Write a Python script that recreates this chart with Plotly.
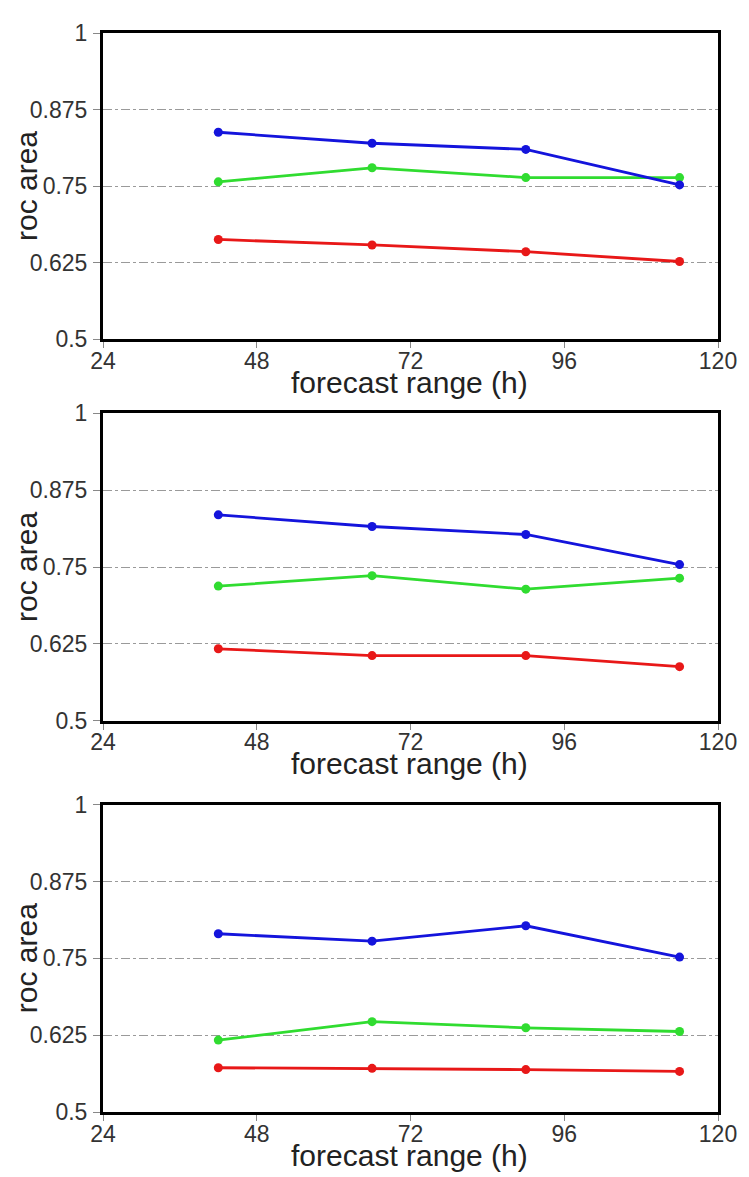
import plotly.graph_objects as go
from plotly.subplots import make_subplots

hours = [42, 66, 90, 114]

blue_1 = [0.838, 0.820, 0.810, 0.752]
green_1 = [0.757, 0.780, 0.764, 0.764]
red_1 = [0.663, 0.654, 0.643, 0.627]

blue_2 = [0.835, 0.816, 0.803, 0.754]
green_2 = [0.719, 0.736, 0.714, 0.732]
red_2 = [0.617, 0.606, 0.606, 0.588]

blue_3 = [0.790, 0.778, 0.803, 0.752]
green_3 = [0.617, 0.647, 0.637, 0.631]
red_3 = [0.572, 0.571, 0.569, 0.566]

x_ticks = [24, 48, 72, 96, 120]
y_ticks = [0.5, 0.625, 0.75, 0.875, 1]
y_tick_text = ["0.5", "0.625", "0.75", "0.875", "1"]

panels = [(blue_1, green_1, red_1), (blue_2, green_2, red_2), (blue_3, green_3, red_3)]
colors = {"red": "#e81818", "green": "#30dc30", "blue": "#1414dc"}

# page body has an 8px default margin; figure is sized/offset accordingly
OFF = 8
W, H = 749 - OFF, 1177 - OFF
ml, mr, mt = 103 - OFF, 24, 20 - OFF
bottom_px = 1112 - OFF
mb = H - bottom_px
plot_h = H - mt - mb
plot_w = W - ml - mr
frames = [(20 - OFF, 330 - OFF), (405 - OFF, 716 - OFF), (801 - OFF, 1112 - OFF)]

fig = make_subplots(rows=3, cols=1)
font_family = "Arial, Liberation Sans, sans-serif"

for i, (b, g, r) in enumerate(panels):
    row = i + 1
    for vals, c in ((r, "red"), (g, "green"), (b, "blue")):
        fig.add_trace(go.Scatter(x=hours, y=vals, mode="lines+markers",
                                 line=dict(color=colors[c], width=2.8),
                                 marker=dict(color=colors[c], size=9),
                                 showlegend=False), row=row, col=1)
    top, bot = frames[i]
    dom = [(bottom_px - bot) / plot_h, (bottom_px - top) / plot_h]
    ax = "" if i == 0 else str(row)
    fig.update_layout(**{
        "yaxis" + ax: dict(domain=dom, range=[0.5, 1], tickvals=y_ticks, ticktext=y_tick_text,
                           showgrid=True, gridcolor="#9a9a9a", gridwidth=1, griddash="dashdot",
                           zeroline=False, showline=True, linecolor="black", linewidth=3,
                           mirror=True, ticks="outside", ticklen=7, tickcolor="#888",
                           tickfont=dict(size=23, color="#333", family=font_family),
                           ticklabelstandoff=1),
        "xaxis" + ax: dict(range=[24, 120], tickvals=x_ticks, showgrid=False, zeroline=False,
                           showline=True, linecolor="black", linewidth=3, mirror=True,
                           ticks="outside", ticklen=6, tickcolor="#888",
                           tickfont=dict(size=23, color="#333", family=font_family),
                           ticklabelstandoff=-7),
    })
    cy = (bottom_px - (top + bot) / 2) / plot_h
    fig.add_annotation(text="roc area", xref="paper", yref="paper",
                       x=(25 - OFF - ml) / plot_w, y=cy, xanchor="center", yanchor="middle",
                       textangle=-90, showarrow=False,
                       font=dict(size=30, color="#222", family=font_family))
    fig.add_annotation(text="forecast range (h)", xref="paper", yref="paper",
                       x=(413 - OFF - ml) / plot_w, y=(bottom_px - (bot + 25)) / plot_h,
                       xanchor="center", yanchor="top", showarrow=False,
                       font=dict(size=30, color="#222", family=font_family))

fig.update_layout(width=W, height=H, margin=dict(l=ml, r=mr, t=mt, b=mb),
                  plot_bgcolor="white", paper_bgcolor="white",
                  font=dict(family=font_family))

fig.write_html("out.html")
